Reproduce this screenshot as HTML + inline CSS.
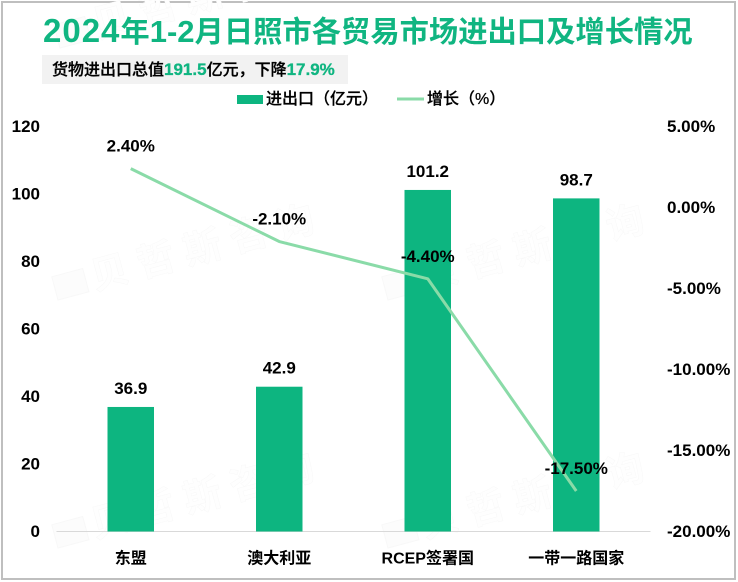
<!DOCTYPE html>
<html lang="zh">
<head>
<meta charset="utf-8">
<title>2024年1-2月日照市各贸易市场进出口及增长情况</title>
<style>
html,body{margin:0;padding:0;background:#fff;}
#chart{display:block;width:738px;height:582px;font-family:"Liberation Sans","Noto Sans CJK SC",sans-serif;}
.tick,.val{font-size:17px;font-weight:700;fill:#000;}
.cat{font-size:16px;font-weight:700;fill:#000;}
.legend-text{font-size:16px;fill:#000;font-weight:500;stroke:#000;stroke-width:.25px;}
.wm{font-size:38px;fill:#fefefe;stroke:#f8f8f8;stroke-width:.5px;font-weight:700;letter-spacing:10px;}
.wm-logo{fill:#fcfcfc;stroke:#f8f8f8;stroke-width:1px;}
</style>
</head>
<body>
<svg id="chart" xmlns="http://www.w3.org/2000/svg" width="738" height="582" viewBox="0 0 738 582">
  <rect x="2" y="2" width="733" height="577" fill="#fff" stroke="#bfbfbf" stroke-width="2"/>
  <g>
    <g transform="translate(60,48) rotate(-15)">
      <rect class="wm-logo" x="0" y="-24" width="32" height="24"/>
      <text class="wm" x="38" y="0">贝哲斯咨询</text>
    </g>
    <g transform="translate(58,300) rotate(-15)">
      <rect class="wm-logo" x="0" y="-24" width="32" height="24"/>
      <text class="wm" x="38" y="0">贝哲斯咨询</text>
    </g>
    <g transform="translate(388,300) rotate(-15)">
      <rect class="wm-logo" x="0" y="-24" width="32" height="24"/>
      <text class="wm" x="38" y="0">贝哲斯咨询</text>
    </g>
    <g transform="translate(58,548) rotate(-15)">
      <rect class="wm-logo" x="0" y="-24" width="32" height="24"/>
      <text class="wm" x="38" y="0">贝哲斯咨询</text>
    </g>
    <g transform="translate(388,548) rotate(-15)">
      <rect class="wm-logo" x="0" y="-24" width="32" height="24"/>
      <text class="wm" x="38" y="0">贝哲斯咨询</text>
    </g>
  </g>
  <text x="43" y="42" font-size="29.3" font-weight="700" fill="#10b581"><tspan font-size="33" letter-spacing="1">2024</tspan>年<tspan font-size="31">1-2</tspan>月日照市各贸易市场进出口及增长情况</text>
  <rect x="42" y="55" width="306" height="29" fill="#f2f2f2"/>
  <text x="52" y="75" font-size="16" font-weight="500" fill="#000" stroke="#000" stroke-width=".3">货物进出口总值<tspan fill="#10b581" stroke="#10b581" font-weight="700" font-size="17">191.5</tspan>亿元，下降<tspan fill="#10b581" stroke="#10b581" font-weight="700" font-size="17">17.9%</tspan></text>
  <g>
    <rect x="237" y="95" width="26" height="9" fill="#0db580"/>
    <text class="legend-text" x="266" y="104">进出口（亿元）</text>
    <line x1="397" y1="99" x2="424" y2="99" stroke="#8adba8" stroke-width="3"/>
    <text class="legend-text" x="427" y="104">增长（%）</text>
  </g>
  <g id="plot"></g>
</svg>
<script>
const categories = ["东盟", "澳大利亚", "RCEP签署国", "一带一路国家"];
const tradeValues = [36.9, 42.9, 101.2, 98.7];
const growthValues = [2.4, -2.1, -4.4, -17.5];
const leftTicks = [0, 20, 40, 60, 80, 100, 120];
const rightTicks = [5, 0, -5, -10, -15, -20];

const NS = "http://www.w3.org/2000/svg";
const plot = document.getElementById("plot");
const plotLeft = 56.5, plotRight = 650.5, plotTop = 126.5, plotBottom = 531.5;
const yLeft = v => plotBottom - (v - 0) / (120 - 0) * (plotBottom - plotTop);
const yRight = v => plotBottom - (v + 20) / (5 + 20) * (plotBottom - plotTop);
const xCenter = i => plotLeft + (i + 0.5) * (plotRight - plotLeft) / categories.length;
const barWidth = 46.5;

function make(tag, attrs, text) {
  const el = document.createElementNS(NS, tag);
  for (const k in attrs) el.setAttribute(k, attrs[k]);
  if (text !== undefined) el.textContent = text;
  plot.appendChild(el);
  return el;
}

const axisLine = make("line", {x1: plotLeft, x2: plotRight, y1: plotBottom, y2: plotBottom, stroke: "#d9d9d9", "stroke-width": 1});



leftTicks.forEach(t => {
  const el = make("text", {class: "tick", x: 40, y: yLeft(t) + 5.5, "text-anchor": "end"}, String(t));
  
  
});

rightTicks.forEach(t => {
  const el = make("text", {class: "tick", x: 667, y: yRight(t) + 5.5, "text-anchor": "start"}, t.toFixed(2) + "%");
  
  
});

categories.forEach((c, i) => {
  const el = make("text", {class: "cat", x: xCenter(i), y: 563.5, "text-anchor": "middle"}, c);
  
  
});

tradeValues.forEach((v, i) => {
  const bar = make("rect", {x: xCenter(i) - barWidth / 2, y: yLeft(v), width: barWidth, height: plotBottom - yLeft(v), fill: "#0db580"});
  
  
  const label = make("text", {class: "val", x: xCenter(i), y: yLeft(v) - 13, "text-anchor": "middle"}, v.toFixed(1));
  
  
});

const line = make("polyline", {
  points: growthValues.map((v, i) => xCenter(i) + "," + yRight(v)).join(" "),
  fill: "none", stroke: "#8adba8", "stroke-width": 3, "stroke-linejoin": "round"
});



growthValues.forEach((v, i) => {
  const label = make("text", {class: "val", x: xCenter(i), y: yRight(v) - 17, "text-anchor": "middle"}, v.toFixed(2) + "%");
  
  
});
</script>
</body>
</html>
